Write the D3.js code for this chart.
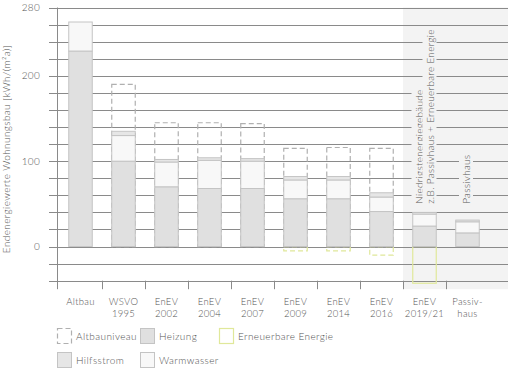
<!DOCTYPE html>
<html><head><meta charset="utf-8">
<script src="https://cdn.jsdelivr.net/npm/d3@7/dist/d3.min.js"></script>
<style>
body{margin:0;background:#fff;}
text{font-family:Lato,"Open Sans",sans-serif;font-weight:300;fill:#555;}
</style></head><body>
<svg id="c" width="509" height="369"></svg>
<script>
const categories = ["Altbau","WSVO 1995","EnEV 2002","EnEV 2004","EnEV 2007","EnEV 2009","EnEV 2014","EnEV 2016","EnEV 2019/21","Passivhaus"];
const catLabels = [["Altbau"],["WSVO","1995"],["EnEV","2002"],["EnEV","2004"],["EnEV","2007"],["EnEV","2009"],["EnEV","2014"],["EnEV","2016"],["EnEV","2019/21"],["Passiv-","haus"]];
const heizung     = [229, 100, 70, 68, 68, 56, 56, 41, 24, 16];
const warmwasser  = [34, 30, 29, 33, 32, 22, 22, 17, 14, 13];
const hilfsstrom  = [0, 5, 3, 3, 3, 4, 4, 5, 2, 2];
const altbauniveau = [null, 190, 145, 145, 144, 115, 116, 115, null, null];
const erneuerbar  = [null, null, null, null, null, -5, -5, -10, -43, null];
const erneuerbarDashed = [false,false,false,false,false,true,true,true,false,false];
const yTicks = d3.range(-40, 281, 20);
const yLabels = [0, 100, 200, 280];
const yTitle = "Endenergiewerte Wohnungsbau [kWh/(m²a)]";
const noteLines = ["Niedrigstenergiegebäude","z.B. Passivhaus + Erneuerbare Energie"];
const noteP = "Passivhaus";
const legendItems = [
  {name:"Altbauniveau", type:"dash"},
  {name:"Heizung", type:"heiz"},
  {name:"Erneuerbare Energie", type:"ee"},
  {name:"Hilfsstrom", type:"hs"},
  {name:"Warmwasser", type:"ww"}
];

const C = {grid:"#8a8a8a", heiz:"#e0e0e0", ww:"#f8f8f8", hs:"#e6e6e6", barStroke:"#c4c4c4", dash:"#b0b0b0", ee:"#e0e89a", shade:"#f3f3f3"};

const svg = d3.select("#c");
const axisX = 57, rightX = 508;
const x = d3.scaleBand().domain(categories).range([59, 489]).padding(0);
const y = d3.scaleLinear().domain([-40, 280]).range([280.7, 7.5]);
const bw = 23.5;
const bx = c => x(c) + (x.step() - bw)/2;
const bottomY = y(-40) + 8.5;

// shaded region
const shadeX = x(categories[8]);
svg.append("rect").attr("x", shadeX).attr("y", y(280)).attr("width", rightX - shadeX).attr("height", bottomY - y(280)).attr("fill", C.shade);

// gridlines & ticks
svg.append("g").selectAll("line").data(yTicks).join("line")
  .attr("x1", axisX - 8).attr("x2", rightX)
  .attr("y1", d => Math.round(y(d)) + 0.5).attr("y2", d => Math.round(y(d)) + 0.5)
  .attr("stroke", C.grid).attr("stroke-width", 1);
svg.append("g").selectAll("text").data(yLabels).join("text")
  .attr("x", 40).attr("y", d => y(d) + 3.5).attr("text-anchor", "end")
  .attr("font-size", 10).attr("letter-spacing", 0.3).text(d => d);
// y axis line
svg.append("line").attr("x1", axisX + 0.5).attr("x2", axisX + 0.5).attr("y1", y(280)).attr("y2", bottomY).attr("stroke", C.grid);
// category separator ticks
svg.append("g").selectAll("line").data(categories.slice(1)).join("line")
  .attr("x1", d => Math.round(x(d)) + 0.5).attr("x2", d => Math.round(x(d)) + 0.5)
  .attr("y1", y(-40)).attr("y2", bottomY).attr("stroke", C.grid);

// note labels with background
function note(lines, cx0, lh) {
  lines.forEach((t, i) => {
    const g = svg.append("g").attr("transform", `translate(${cx0 + i*lh},${y(50)}) rotate(-90)`);
    const tx = g.append("text").attr("x", 0).attr("y", 3.5).attr("font-size", 10).attr("letter-spacing", 0.3).text(t);
    const bb = tx.node().getBBox();
    g.insert("rect", "text").attr("x", bb.x - 2).attr("y", bb.y - 1).attr("width", bb.width + 4).attr("height", bb.height + 2).attr("fill", C.shade);
  });
}
note(noteLines, x(categories[8]) + x.step()/2 - 5.5, 11);
note([noteP], x(categories[9]) + x.step()/2 - 1, 11);

// altbauniveau dashed boxes
svg.append("g").selectAll("rect").data(categories.filter((c,i) => altbauniveau[i] != null)).join("rect")
  .attr("x", c => bx(c)).attr("width", bw)
  .attr("y", c => y(altbauniveau[categories.indexOf(c)]))
  .attr("height", c => y(0) - y(altbauniveau[categories.indexOf(c)]))
  .attr("fill", "none").attr("stroke", C.dash).attr("stroke-width", 1.2).attr("stroke-dasharray", "5,3");

// erneuerbare boxes
svg.append("g").selectAll("rect").data(categories.filter((c,i) => erneuerbar[i] != null)).join("rect")
  .attr("x", c => bx(c)).attr("width", bw)
  .attr("y", y(0))
  .attr("height", c => y(erneuerbar[categories.indexOf(c)]) - y(0))
  .attr("fill", "none").attr("stroke", C.ee).attr("stroke-width", 1.2)
  .attr("stroke-dasharray", c => erneuerbarDashed[categories.indexOf(c)] ? "5,3" : null);

// stacked bars
const stackData = categories.map((c,i) => ({c, heizung: heizung[i], warmwasser: warmwasser[i], hilfsstrom: hilfsstrom[i]}));
const stack = d3.stack().keys(["heizung","warmwasser","hilfsstrom"])(stackData);
const fills = {heizung: C.heiz, warmwasser: C.ww, hilfsstrom: C.hs};
stack.forEach(s => {
  svg.append("g").selectAll("rect").data(s.filter(d => d[1] > d[0])).join("rect")
    .attr("x", d => bx(d.data.c)).attr("width", bw)
    .attr("y", d => y(d[1])).attr("height", d => y(d[0]) - y(d[1]))
    .attr("fill", fills[s.key]).attr("stroke", C.barStroke).attr("stroke-width", 1);
});

// category labels
const cl = svg.append("g");
categories.forEach((c, i) => {
  catLabels[i].forEach((t, j) => {
    cl.append("text").attr("x", x(c) + x.step()/2).attr("y", 305 + j*11.5).attr("text-anchor", "middle")
      .attr("font-size", 9.5).attr("letter-spacing", 0.3).text(t);
  });
});

// y title
svg.append("text").attr("transform", `translate(10,149) rotate(-90)`).attr("text-anchor", "middle")
  .attr("font-size", 10).attr("letter-spacing", 0.4).text(yTitle);

// legend
const legPos = [[57,328],[140,328],[219,328],[57,352],[140,352]];
legendItems.forEach((it, i) => {
  const [lx, ly] = legPos[i];
  const r = svg.append("rect").attr("x", lx + 0.5).attr("y", ly + 0.5).attr("width", 14).attr("height", 15);
  if (it.type === "dash") r.attr("fill", "none").attr("stroke", C.dash).attr("stroke-dasharray", "5,3").attr("stroke-width", 1.2);
  else if (it.type === "ee") r.attr("fill", "#fff").attr("stroke", C.ee).attr("stroke-width", 1.2);
  else r.attr("fill", it.type === "heiz" ? C.heiz : it.type === "hs" ? C.hs : C.ww).attr("stroke", C.barStroke);
  svg.append("text").attr("x", lx + 19).attr("y", ly + 11.5).attr("font-size", 10).attr("letter-spacing", 0.4).text(it.name);
});
</script></body></html>
